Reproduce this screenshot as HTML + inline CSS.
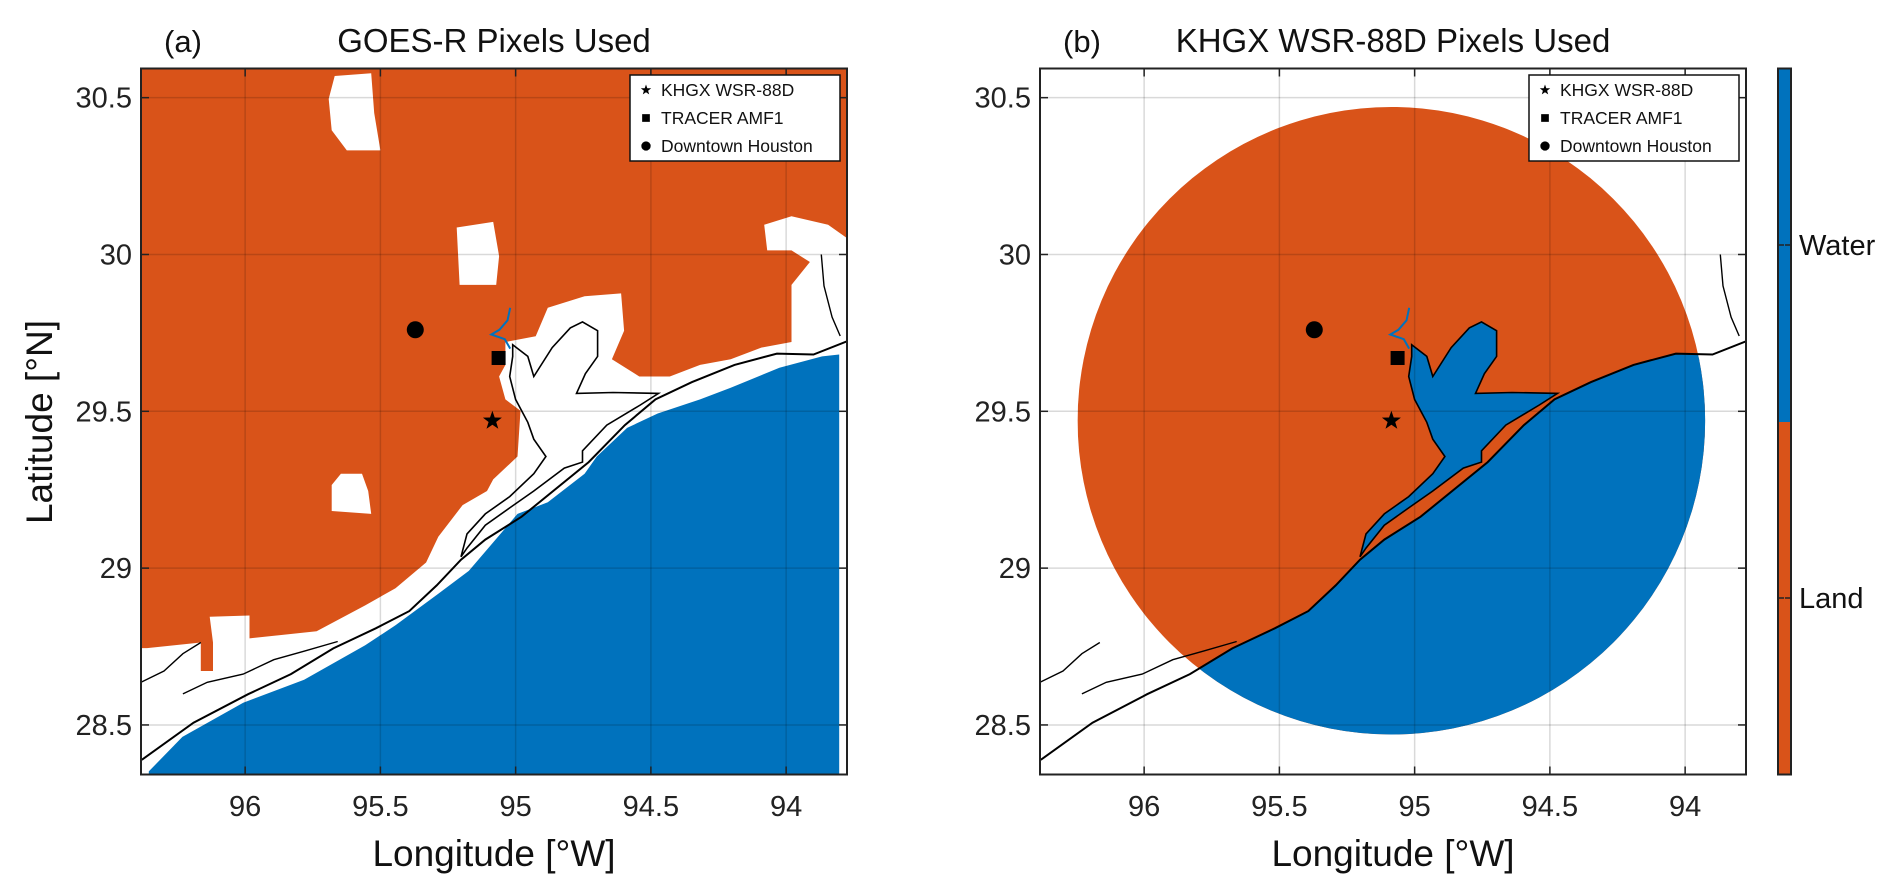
<!DOCTYPE html>
<html><head><meta charset="utf-8">
<style>
html,body{margin:0;padding:0;background:#fff;}
svg{display:block;font-family:"Liberation Sans",sans-serif;}
</style></head>
<body>
<svg id="fig" width="1892" height="888" viewBox="0 0 1892 888" xmlns="http://www.w3.org/2000/svg"></svg>
<script>
const NS="http://www.w3.org/2000/svg";
const ORANGE="#D95319", BLUE="#0072BD";
// axis data
const lonTicks=[96,95.5,95,94.5,94];
const latTicks=[30.5,30,29.5,29,28.5];
const lonRange=[96.385,93.775];
const latRange=[30.593,28.342];
const sites=[{name:"KHGX WSR-88D",lon:95.086,lat:29.47,m:"star"},{name:"TRACER AMF1",lon:95.063,lat:29.67,m:"square"},{name:"Downtown Houston",lon:95.371,lat:29.76,m:"circle"}];
const radarRangeDeg=1.16;
// coastline (lon W, lat N)
const coastLon=[96.382,96.191,95.989,95.831,95.674,95.517,95.393,95.292,95.202,95.112,94.978,94.730,94.596,94.483,94.348,94.191,94.034,93.899,93.773];
const coastLat=[28.389,28.507,28.598,28.662,28.744,28.808,28.863,28.945,29.027,29.091,29.164,29.338,29.456,29.538,29.593,29.648,29.684,29.681,29.724];
const bay=[[95.011,29.712],[94.955,29.675],[94.933,29.611],[94.865,29.703],[94.798,29.766],[94.753,29.785],[94.697,29.757],[94.697,29.675],[94.742,29.620],[94.775,29.557],[94.640,29.560],[94.472,29.557],[94.539,29.520],[94.663,29.456],[94.753,29.374],[94.753,29.338],[94.820,29.319],[94.933,29.246],[95.022,29.192],[95.112,29.137],[95.180,29.064],[95.202,29.036],[95.180,29.109],[95.112,29.173],[95.022,29.228],[94.933,29.301],[94.888,29.356],[94.933,29.411],[94.955,29.465],[95.000,29.538],[95.022,29.611],[95.011,29.675]];
const channel=[[95.02,29.83],[95.03,29.79],[95.06,29.76],[95.09,29.745],[95.04,29.73],[95.02,29.70]];
const inland1=[[96.385,28.636],[96.30,28.672],[96.23,28.727],[96.164,28.763]];
const inland2=[[96.23,28.599],[96.14,28.636],[96.007,28.662],[95.894,28.708],[95.782,28.735],[95.658,28.766]];
const sabine=[[93.87,30.0],[93.86,29.9],[93.83,29.80],[93.80,29.74]];
// GOES-R panel regions
const goesLand=[[96.385,28.745],[96.363,28.745],[96.164,28.763],[96.164,28.672],[96.119,28.672],[96.119,28.763],[96.131,28.845],[95.984,28.849],[95.984,28.776],[95.736,28.799],[95.556,28.881],[95.444,28.936],[95.331,29.018],[95.286,29.100],[95.196,29.201],[95.106,29.246],[95.083,29.283],[94.993,29.356],[94.982,29.502],[95.038,29.538],[95.061,29.611],[95.038,29.648],[95.038,29.721],[94.926,29.739],[94.881,29.830],[94.745,29.867],[94.610,29.876],[94.599,29.757],[94.644,29.666],[94.543,29.611],[94.430,29.611],[94.318,29.648],[94.205,29.666],[94.092,29.703],[93.980,29.721],[93.980,29.903],[93.912,29.976],[93.980,30.013],[94.070,30.013],[94.081,30.095],[93.980,30.122],[93.845,30.095],[93.770,30.049],[93.770,30.597],[96.385,30.597]];
const goesHoles=[
 [[95.669,30.569],[95.534,30.578],[95.523,30.451],[95.500,30.332],[95.624,30.332],[95.680,30.396],[95.691,30.496]],
 [[95.218,30.086],[95.083,30.104],[95.061,29.995],[95.072,29.903],[95.207,29.903]],
 [[95.646,29.301],[95.568,29.301],[95.545,29.246],[95.534,29.173],[95.680,29.182],[95.680,29.265]]];
const goesWater=[[96.356,28.352],[96.232,28.462],[96.007,28.571],[95.782,28.644],[95.556,28.754],[95.444,28.818],[95.286,28.918],[95.173,28.991],[95.083,29.082],[94.993,29.173],[94.881,29.210],[94.745,29.301],[94.700,29.356],[94.588,29.447],[94.475,29.493],[94.318,29.538],[94.205,29.575],[94.025,29.639],[93.867,29.675],[93.804,29.681],[93.804,28.339],[96.356,28.339]];
const cbLabels=["Water","Land"];

const svg=document.getElementById('fig');
function el(tag,attrs,parent){const e=document.createElementNS(NS,tag);for(const k in attrs)e.setAttribute(k,attrs[k]);(parent||svg).appendChild(e);return e;}
const AX={top:68.5,bottom:774.5,w:706};
function mkX(left){return lon=>left+(lonRange[0]-lon)/(lonRange[0]-lonRange[1])*AX.w;}
function Y(lat){return AX.top+(latRange[0]-lat)/(latRange[0]-latRange[1])*(AX.bottom-AX.top);}
function pts(arr,X){return arr.map(p=>X(p[0]).toFixed(1)+","+Y(p[1]).toFixed(1)).join(" ");}
function pathD(arr,X){return "M"+arr.map(p=>X(p[0]).toFixed(1)+" "+Y(p[1]).toFixed(1)).join("L")+"Z";}

function panel(idx,left,letter,title){
  const X=mkX(left), right=left+AX.w;
  const g=el('g',{});
  
  
  const cp=el('clipPath',{id:'clip'+idx},g);
  el('rect',{x:left,y:AX.top,width:AX.w,height:AX.bottom-AX.top},cp);
  const m=el('g',{'clip-path':'url(#clip'+idx+')'},g);
  
  
  if(idx===0){
    let d=pathD(goesLand,X);goesHoles.forEach(h=>d+=pathD(h,X));
    const land=el('path',{d:d,fill:ORANGE,'fill-rule':'evenodd'},m);
    
    
    const w=el('polygon',{points:pts(goesWater,X),fill:BLUE},m);
    
    
  } else {
    const cx=X(sites[0].lon), cy=Y(sites[0].lat), r=radarRangeDeg*AX.w/(lonRange[0]-lonRange[1]);
    const cc=el('clipPath',{id:'circ'},g);
    el('circle',{cx:cx,cy:cy,r:r},cc);
    const cg=el('g',{'clip-path':'url(#circ)'},m);
    const c=el('rect',{x:cx-r,y:cy-r,width:2*r,height:2*r,fill:ORANGE},cg);
    
    
    const ocean=coastLon.map((v,i)=>[v,coastLat[i]]).concat([[93.5,29.724],[93.5,28.0],[96.5,28.0],[96.5,28.389]]);
    const o=el('polygon',{points:pts(ocean,X),fill:BLUE},cg);
    
    
    const b=el('polygon',{points:pts(bay,X),fill:BLUE},cg);
    
    
  }
  // coastlines
  const cl=el('polyline',{points:pts(coastLon.map((v,i)=>[v,coastLat[i]]),X),fill:'none',stroke:'#000','stroke-width':2},m);
  
  
  const bo=el('polygon',{points:pts(bay,X),fill:'none',stroke:'#000','stroke-width':1.6},m);
  
  
  [inland1,inland2,sabine].forEach(a=>{el('polyline',{points:pts(a,X),fill:'none',stroke:'#000','stroke-width':1.4},m);});
  el('polyline',{points:pts(channel,X),fill:'none',stroke:BLUE,'stroke-width':2},m);
  // grid
  lonTicks.forEach(t=>{const x=X(t);
    el('line',{x1:x,x2:x,y1:AX.top,y2:AX.bottom,stroke:'rgba(0,0,0,0.15)','stroke-width':1.5},g);
    el('line',{x1:x,x2:x,y1:AX.bottom,y2:AX.bottom-8,stroke:'#222','stroke-width':1.5},g);
    el('line',{x1:x,x2:x,y1:AX.top,y2:AX.top+8,stroke:'#222','stroke-width':1.5},g);
    const tx=el('text',{x:x,y:816,'font-size':29,'text-anchor':'middle',fill:'#222'},g);tx.textContent=String(t);
    
    
  });
  latTicks.forEach(t=>{const y=Y(t);
    el('line',{x1:left,x2:right,y1:y,y2:y,stroke:'rgba(0,0,0,0.15)','stroke-width':1.5},g);
    el('line',{x1:left,x2:left+8,y1:y,y2:y,stroke:'#222','stroke-width':1.5},g);
    el('line',{x1:right,x2:right-8,y1:y,y2:y,stroke:'#222','stroke-width':1.5},g);
    const tx=el('text',{x:left-9,y:y+10,'font-size':29,'text-anchor':'end',fill:'#222'},g);tx.textContent=String(t);
    
    
  });
  // markers
  sites.forEach(s=>drawMarker(s.m,X(s.lon),Y(s.lat),1,g,s.name));
  el('rect',{x:left,y:AX.top,width:AX.w,height:AX.bottom-AX.top,fill:'none',stroke:'#222','stroke-width':2},g);
  // legend
  const lx=right-217,ly=75;
  const lg=el('g',{},g);
  
  
  el('rect',{x:lx,y:ly,width:210,height:86,fill:'#fff',stroke:'#111','stroke-width':1.5},lg);
  sites.forEach((s,i)=>{const yy=ly+15+i*28;
    drawMarker(s.m,lx+16,yy,0.55,lg,'legend-marker');
    const t=el('text',{x:lx+31,y:yy+6,'font-size':17.5,fill:'#111'},lg);t.textContent=s.name;
    
    
  });
  // titles
  const tl=el('text',{x:left+23,y:52,'font-size':31,fill:'#111'},g);tl.textContent="("+letter+")";
  
  
  const tt=el('text',{x:left+353,y:52,'font-size':33,'text-anchor':'middle',fill:'#111'},g);tt.textContent=title;
  
  
  const xl=el('text',{x:left+353,y:866,'font-size':37,'text-anchor':'middle',fill:'#111'},g);xl.textContent="Longitude [°W]";
  
  
}
function drawMarker(type,x,y,s,parent,name){
  let e;
  if(type==='circle') e=el('circle',{cx:x,cy:y,r:8.5*s,fill:'#000'},parent);
  else if(type==='square') e=el('rect',{x:x-7*s,y:y-7*s,width:14*s,height:14*s,fill:'#000'},parent);
  else {let p=[];for(let i=0;i<10;i++){const a=-Math.PI/2+i*Math.PI/5,r=(i%2?4:10)*s;p.push((x+r*Math.cos(a)).toFixed(1)+","+(y+r*Math.sin(a)).toFixed(1));}
    e=el('polygon',{points:p.join(" "),fill:'#000'},parent);}
  
  
}
panel(0,141,'a','GOES-R Pixels Used');
panel(1,1040,'b','KHGX WSR-88D Pixels Used');
// y title
const yl=el('text',{x:0,y:0,'font-size':37,'text-anchor':'middle',fill:'#111',transform:'translate(52,422) rotate(-90)'});
yl.textContent="Latitude [°N]";


// colorbar
const cb=el('g',{});


el('rect',{x:1778,y:68.5,width:13,height:353.5,fill:BLUE},cb);
el('rect',{x:1778,y:422,width:13,height:352.5,fill:ORANGE},cb);
el('rect',{x:1778,y:68.5,width:13,height:706,fill:'none',stroke:'#222','stroke-width':2},cb);
cbLabels.forEach((lab,i)=>{const y=[245,598][i];
  el('line',{x1:1778,x2:1784,y1:y,y2:y,stroke:'#222','stroke-width':1.5},cb);
  el('line',{x1:1791,x2:1785,y1:y,y2:y,stroke:'#222','stroke-width':1.5},cb);
  const t=el('text',{x:1799,y:y+10,'font-size':29,fill:'#111'},cb);t.textContent=lab;
  
  
});
</script>
</body></html>
